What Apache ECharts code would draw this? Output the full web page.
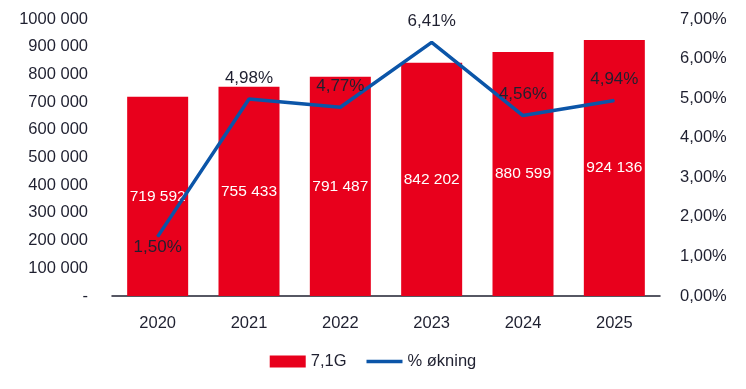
<!DOCTYPE html>
<html><head><meta charset="utf-8">
<script src="https://cdn.jsdelivr.net/npm/echarts@6/dist/echarts.min.js"></script>
<style>html,body{margin:0;padding:0;background:#fff}#c{width:746px;height:389px}</style>
</head><body><div id="c"></div>
<script>
const categories = ['2020','2021','2022','2023','2024','2025'];
const values = [719592, 755433, 791487, 842202, 880599, 924136];
const growth = [1.50, 4.98, 4.77, 6.41, 4.56, 4.94];
const barName = '7,1G';
const lineName = '% økning';

function fmtNum(v){
  if (v === 0) return '-';
  const th = Math.floor(v/1000), rest = v % 1000;
  return th + ' ' + String(rest).padStart(3,'0');
}
function fmtPct(v){ return v.toFixed(2).replace('.', ',') + '%'; }

const FONT = '"Liberation Sans", Arial, sans-serif';
const TXT = '#1f2030';
const BLUE = '#0B55A8';
const chart = echarts.init(document.getElementById('c'));
chart.setOption({
  animation:false,
  textStyle:{fontFamily:FONT},
  grid:{left:112, right:86, top:19, bottom:93},
  legend:{
    bottom:14, left:'center', itemGap:20,
    textStyle:{fontSize:16.5, color:TXT, fontFamily:FONT},
    data:[
      {name:barName, icon:'rect', itemStyle:{color:'#E8001C'}},
      {name:lineName, icon:'path://M0,0h40v4h-40z', itemStyle:{color:BLUE}}
    ],
    itemWidth:36, itemHeight:12
  },
  xAxis:{
    type:'category', data:categories,
    axisLine:{lineStyle:{color:'#1f2030', width:1.5}},
    axisTick:{show:false},
    axisLabel:{fontSize:16.5, color:TXT, margin:19, fontFamily:FONT}
  },
  yAxis:[
    {type:'value', min:0, max:1000000, interval:100000,
     splitLine:{show:false}, axisLine:{show:false}, axisTick:{show:false},
     axisLabel:{fontSize:16.5, color:TXT, margin:24, formatter:fmtNum, fontFamily:FONT}},
    {type:'value', min:0, max:7, interval:1,
     splitLine:{show:false}, axisLine:{show:false}, axisTick:{show:false},
     axisLabel:{fontSize:16.5, color:TXT, margin:20, formatter:fmtPct, fontFamily:FONT}}
  ],
  series:[
    {name:barName, type:'bar', data:values, barWidth:61,
     itemStyle:{color:'#E8001C'},
     label:{show:true, position:'inside', color:'#fff', fontSize:15.5, fontFamily:FONT,
            formatter:p=>fmtNum(p.value)}},
    {name:lineName, type:'line', yAxisIndex:1, data:growth.map((v,i)=>({
        value:v,
        label:{position: i===0 ? 'bottom' : 'top', distance: i===0 ? 2 : 12}
      })),
     symbol:'circle', symbolSize:1, showSymbol:true,
     lineStyle:{color:BLUE, width:3.5}, itemStyle:{color:BLUE},
     label:{show:true, fontSize:17, color:TXT, fontFamily:FONT, formatter:p=>fmtPct(p.value)}}
  ]
});
</script></body></html>
